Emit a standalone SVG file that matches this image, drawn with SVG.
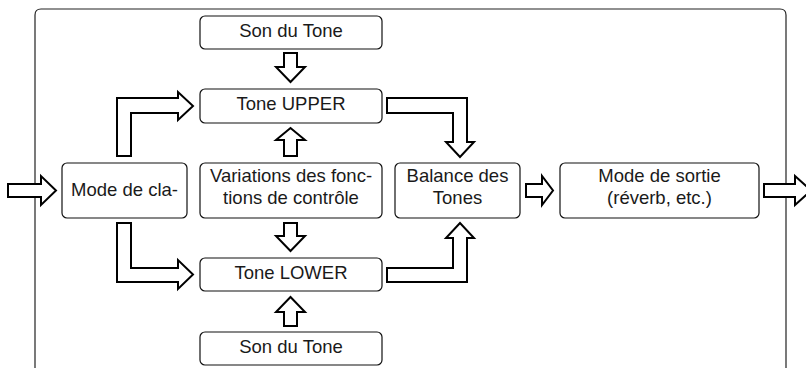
<svg xmlns="http://www.w3.org/2000/svg" width="806" height="368" viewBox="0 0 806 368">
<style>
.frame{fill:none;stroke:#222;stroke-width:1.2}
.box{fill:#fff;stroke:#111;stroke-width:1.2}
.arr{fill:#fff;stroke:#000;stroke-width:2;stroke-linejoin:miter}
text{font-family:"Liberation Sans",Arial,sans-serif;font-size:18.5px;fill:#1a1a1a;text-anchor:middle}
</style>
<rect width="806" height="368" fill="#fff"/>
<path class="frame" d="M35,372 V15 Q35,9 41,9 H780 Q786,9 786,15 V372"/>
<g id="connectors">
<path class="arr" d="M8,184 H41 V176 L56,190.5 L41,205 V197 H8 Z"/>
<path class="arr" d="M117,156 V98 H178 V92 L193,106 L178,120 V113 H131 V156 Z"/>
<path class="arr" d="M117,223 V282 H178 V289 L193,274.5 L178,260 V268 H131 V223 Z"/>
<path class="arr" d="M284,53 V67 H276 L290.5,82 L305,67 H297 V53 Z"/>
<path class="arr" d="M284,156 V140 H276 L290.5,128 L305,140 H297 V156 Z"/>
<path class="arr" d="M284,223 V236 H276 L290.5,251 L305,236 H297 V223 Z"/>
<path class="arr" d="M284,326 V312 H276 L290.5,297 L305,312 H297 V326 Z"/>
<path class="arr" d="M387,98 H467 V142 H474 L460,157 L446,142 H453 V113 H387 Z"/>
<path class="arr" d="M387,282 H467 V238 H474 L460,223 L446,238 H453 V268 H387 Z"/>
<path class="arr" d="M526,184 H542 V176 L553,190.5 L542,205 V197 H526 Z"/>
<path class="arr" d="M764,184 H795 V176 L811,190.5 L795,205 V197 H764 Z"/>
</g>
<g id="son-top"><rect class="box" x="200" y="16" width="182" height="33" rx="5"/><text x="291" y="37">Son du Tone</text></g>
<g id="tone-upper"><rect class="box" x="200" y="89" width="182" height="34" rx="5"/><text x="291" y="109.5">Tone UPPER</text></g>
<g id="variations"><rect class="box" x="200" y="163" width="182" height="55" rx="5"/><text x="291" y="182">Variations des fonc-</text><text x="291" y="204">tions de contrôle</text></g>
<g id="mode-cla"><rect class="box" x="62" y="163" width="125" height="55" rx="5"/><text x="124.5" y="196">Mode de cla-</text></g>
<g id="balance"><rect class="box" x="395" y="163" width="125" height="55" rx="5"/><text x="457.5" y="182">Balance des</text><text x="457.5" y="204">Tones</text></g>
<g id="mode-sortie"><rect class="box" x="560" y="163" width="199" height="55" rx="5"/><text x="659.5" y="182">Mode de sortie</text><text x="659.5" y="204">(réverb, etc.)</text></g>
<g id="tone-lower"><rect class="box" x="200" y="258" width="182" height="33" rx="5"/><text x="291" y="279">Tone LOWER</text></g>
<g id="son-bottom"><rect class="box" x="200" y="332" width="182" height="33" rx="5"/><text x="291" y="353">Son du Tone</text></g>
</svg>
